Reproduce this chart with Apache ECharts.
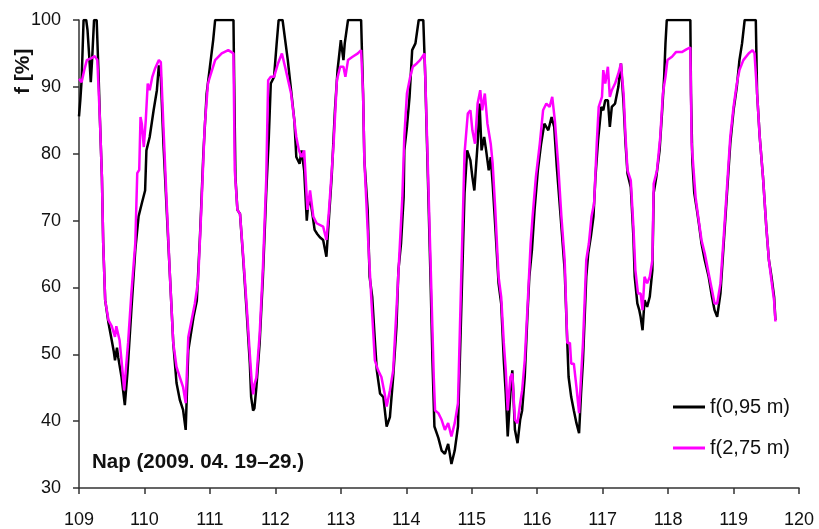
<!DOCTYPE html>
<html>
<head>
<meta charset="utf-8">
<title>f [%]</title>
<script src="https://cdn.jsdelivr.net/npm/echarts@6/dist/echarts.min.js"></script>
<style>
  html, body { margin: 0; padding: 0; background: #fff; }
  #chart { width: 819px; height: 529px; }
</style>
</head>
<body>
<div id="chart"></div>
<script>
// Day-of-year axis ticks and value axis ticks
const dayTicks = [109, 110, 111, 112, 113, 114, 115, 116, 117, 118, 119, 120];
const fTicks = [30, 40, 50, 60, 70, 80, 90, 100];

// f(0,95 m): time (day of year) and relative humidity [%]
const t095 = [
  109.00, 109.02, 109.04, 109.07, 109.11, 109.13, 109.16, 109.18, 109.20, 109.23,
  109.27, 109.30, 109.32, 109.35, 109.37, 109.40, 109.45, 109.50, 109.53, 109.55,
  109.58, 109.60, 109.65, 109.70, 109.74, 109.80, 109.86, 109.91, 109.96, 110.01,
  110.03, 110.08, 110.14, 110.19, 110.22, 110.25, 110.29, 110.34, 110.39, 110.44,
  110.47, 110.49, 110.54, 110.59, 110.63, 110.67, 110.75, 110.80, 110.85, 110.90,
  110.95, 111.00, 111.05, 111.08, 111.36, 111.37, 111.39, 111.42, 111.46, 111.51,
  111.56, 111.61, 111.63, 111.66, 111.68, 111.71, 111.76, 111.81, 111.86, 111.90,
  111.93, 111.98, 112.02, 112.05, 112.11, 112.15, 112.19, 112.24, 112.29, 112.32,
  112.37, 112.40, 112.44, 112.48, 112.51, 112.55, 112.60, 112.64, 112.68, 112.73,
  112.78, 112.82, 112.86, 112.91, 112.95, 113.00, 113.04, 113.06, 113.11, 113.31,
  113.34, 113.36, 113.41, 113.44, 113.48, 113.52, 113.55, 113.60, 113.65, 113.70,
  113.75, 113.80, 113.85, 113.88, 113.92, 113.96, 113.97, 114.01, 114.05, 114.09,
  114.14, 114.19, 114.26, 114.29, 114.33, 114.37, 114.40, 114.43, 114.49, 114.54,
  114.59, 114.64, 114.69, 114.74, 114.79, 114.84, 114.89, 114.93, 114.98, 115.01,
  115.04, 115.09, 115.12, 115.15, 115.19, 115.22, 115.26, 115.29, 115.32, 115.36,
  115.41, 115.45, 115.49, 115.52, 115.55, 115.59, 115.62, 115.66, 115.70, 115.74,
  115.77, 115.81, 115.85, 115.88, 115.92, 115.96, 116.01, 116.06, 116.11, 116.17,
  116.22, 116.26, 116.30, 116.37, 116.42, 116.46, 116.48, 116.52, 116.56, 116.60,
  116.64, 116.67, 116.70, 116.75, 116.78, 116.82, 116.86, 116.89, 116.93, 116.98,
  117.01, 117.04, 117.08, 117.11, 117.14, 117.19, 117.24, 117.28, 117.32, 117.35,
  117.38, 117.43, 117.47, 117.49, 117.53, 117.56, 117.58, 117.61, 117.64, 117.68,
  117.72, 117.76, 117.78, 117.82, 117.87, 117.91, 117.94, 117.96, 117.98, 118.34,
  118.35, 118.37, 118.40, 118.44, 118.47, 118.51, 118.56, 118.62, 118.67, 118.71,
  118.75, 118.80, 118.85, 118.90, 118.95, 119.00, 119.05, 119.09, 119.13, 119.17,
  119.34, 119.36, 119.40, 119.45, 119.50, 119.54, 119.58, 119.62, 119.64
];
const f095 = [
  85.6, 88.0, 91.0, 100, 100, 98.5, 94.0, 90.7, 94.0, 100,
  100, 91.5, 85.0, 76.5, 66.6, 58.1, 54.7, 52.1, 50.5, 49.1,
  51.0, 49.5, 46.6, 42.4, 47.2, 56.6, 65.6, 70.6, 72.6, 74.5,
  80.5, 82.5, 86.5, 89.5, 93.2, 91.5, 81.5, 71.5, 61.6, 51.7,
  48.1, 45.7, 43.2, 41.7, 38.7, 50.6, 55.6, 58.0, 68.0, 80.0,
  89.0, 93.0, 97.0, 100, 100, 91.5, 76.5, 71.6, 71.0, 64.1,
  56.6, 48.6, 43.6, 41.6, 41.9, 45.1, 51.7, 61.6, 74.1, 82.5,
  90.5, 91.5, 96.5, 100, 100, 97.0, 94.0, 89.5, 85.0, 79.5,
  78.5, 80.5, 77.5, 70.0, 73.5, 72.1, 68.6, 68.0, 67.5, 67.1,
  64.6, 70.6, 76.5, 86.5, 92.5, 97.0, 94.0, 96.5, 100, 100,
  89.0, 79.0, 71.6, 61.6, 58.6, 52.1, 47.6, 44.1, 43.6, 39.2,
  40.6, 46.6, 54.1, 62.6, 66.6, 73.5, 80.5, 84.0, 88.5, 95.5,
  96.5, 100, 100, 91.5, 76.5, 61.6, 49.1, 39.2, 37.5, 35.6,
  35.1, 36.6, 33.6, 35.6, 39.2, 56.6, 74.1, 80.5, 79.0, 76.5,
  74.5, 81.5, 87.5, 80.5, 82.5, 80.5, 77.5, 79.5, 75.5, 69.1,
  60.6, 57.6, 49.1, 44.1, 37.7, 44.1, 47.6, 38.7, 36.7, 40.2,
  41.6, 46.6, 55.6, 61.6, 65.6, 71.6, 77.5, 81.5, 84.5, 83.5,
  85.5, 84.0, 78.0, 69.1, 62.6, 51.7, 46.6, 43.6, 41.6, 39.7,
  38.2, 44.1, 49.1, 61.6, 65.1, 67.6, 70.6, 76.5, 82.0, 87.0,
  86.5, 88.0, 88.0, 84.0, 87.0, 87.5, 90.0, 93.5, 87.5, 81.5,
  77.0, 75.0, 67.6, 61.6, 57.6, 56.6, 55.6, 53.6, 58.1, 57.1,
  58.6, 62.6, 74.1, 76.5, 80.5, 86.5, 91.5, 96.5, 100, 100,
  89.0, 79.0, 74.1, 71.6, 69.6, 66.6, 64.1, 61.6, 58.6, 56.6,
  55.6, 59.1, 66.6, 74.1, 81.5, 86.5, 90.0, 94.0, 96.5, 100,
  100, 89.0, 82.5, 76.5, 69.1, 64.1, 61.6, 58.6, 55.1
];

// f(2,75 m): time (day of year) and relative humidity [%]
const t275 = [
  109.00, 109.04, 109.08, 109.12, 109.19, 109.24, 109.28, 109.32, 109.35, 109.37,
  109.40, 109.45, 109.50, 109.55, 109.57, 109.62, 109.66, 109.69, 109.75, 109.80,
  109.86, 109.89, 109.92, 109.94, 109.96, 109.99, 110.02, 110.05, 110.08, 110.12,
  110.16, 110.22, 110.25, 110.29, 110.34, 110.39, 110.44, 110.49, 110.54, 110.59,
  110.63, 110.67, 110.72, 110.77, 110.82, 110.87, 110.92, 110.97, 111.00, 111.08,
  111.18, 111.28, 111.36, 111.38, 111.42, 111.46, 111.51, 111.56, 111.61, 111.64,
  111.66, 111.68, 111.71, 111.76, 111.81, 111.86, 111.89, 111.93, 111.98, 112.04,
  112.10, 112.16, 112.24, 112.32, 112.36, 112.40, 112.44, 112.49, 112.53, 112.58,
  112.63, 112.66, 112.73, 112.78, 112.82, 112.89, 112.94, 112.99, 113.04, 113.07,
  113.11, 113.18, 113.26, 113.31, 113.34, 113.36, 113.42, 113.47, 113.52, 113.57,
  113.62, 113.67, 113.70, 113.75, 113.80, 113.85, 113.89, 113.94, 113.97, 114.01,
  114.06, 114.10, 114.16, 114.21, 114.28, 114.32, 114.37, 114.42, 114.44, 114.49,
  114.54, 114.59, 114.64, 114.69, 114.74, 114.79, 114.84, 114.89, 114.94, 114.98,
  115.01, 115.05, 115.09, 115.13, 115.16, 115.20, 115.24, 115.29, 115.32, 115.36,
  115.41, 115.45, 115.49, 115.52, 115.55, 115.59, 115.62, 115.66, 115.70, 115.74,
  115.77, 115.81, 115.85, 115.90, 115.93, 115.98, 116.04, 116.09, 116.14, 116.19,
  116.23, 116.27, 116.32, 116.37, 116.42, 116.46, 116.50, 116.52, 116.56, 116.60,
  116.64, 116.67, 116.70, 116.75, 116.79, 116.83, 116.87, 116.91, 116.94, 116.99,
  117.01, 117.04, 117.08, 117.11, 117.14, 117.19, 117.24, 117.28, 117.32, 117.35,
  117.38, 117.43, 117.47, 117.50, 117.54, 117.58, 117.61, 117.64, 117.68, 117.72,
  117.76, 117.78, 117.83, 117.88, 117.92, 117.96, 117.99, 118.06, 118.12, 118.21,
  118.28, 118.34, 118.36, 118.39, 118.42, 118.46, 118.51, 118.56, 118.62, 118.67,
  118.71, 118.75, 118.80, 118.85, 118.90, 118.95, 119.00, 119.05, 119.09, 119.15,
  119.23, 119.29, 119.32, 119.36, 119.40, 119.45, 119.50, 119.54, 119.58, 119.62,
  119.64
];
const f275 = [
  91.2, 90.7, 92.5, 94.0, 94.3, 94.6, 94.0, 85.0, 76.5, 66.6,
  58.1, 55.1, 54.2, 52.6, 54.2, 52.1, 48.0, 44.6, 51.7, 59.1,
  66.6, 77.1, 77.6, 85.5, 84.5, 81.0, 85.0, 90.5, 89.5, 91.5,
  92.7, 94.0, 93.7, 84.0, 72.6, 61.6, 51.7, 48.1, 46.6, 45.1,
  42.7, 52.6, 55.1, 57.6, 61.0, 72.0, 84.0, 90.5, 91.5, 94.0,
  95.0, 95.5, 95.0, 77.5, 71.6, 71.0, 64.5, 57.5, 50.0, 45.7,
  44.0, 45.5, 46.5, 53.0, 63.0, 76.0, 91.0, 91.5, 91.5, 93.5,
  95.0, 92.5, 89.0, 82.5, 80.5, 79.5, 80.5, 71.6, 74.5, 70.6,
  69.6, 69.6, 69.1, 67.1, 71.6, 81.5, 91.0, 93.0, 93.0, 91.5,
  94.0, 94.5, 95.0, 95.5, 89.0, 79.0, 66.6, 57.6, 49.1, 47.6,
  46.6, 44.1, 42.2, 44.6, 47.6, 56.6, 64.1, 73.5, 82.5, 89.0,
  91.5, 93.0, 93.5, 94.0, 95.0, 81.5, 64.1, 46.6, 41.6, 41.2,
  40.2, 38.7, 39.7, 37.7, 39.7, 42.7, 61.6, 80.0, 86.0, 86.5,
  83.5, 81.5, 87.5, 89.5, 86.5, 89.0, 84.5, 81.5, 78.5, 71.6,
  61.6, 58.6, 51.7, 47.6, 41.6, 46.6, 47.1, 40.2, 39.7, 42.7,
  44.6, 49.1, 56.6, 66.6, 70.6, 76.5, 81.5, 86.5, 87.5, 87.0,
  88.5, 85.0, 78.5, 70.6, 64.1, 51.7, 51.7, 48.6, 48.6, 45.1,
  41.2, 46.6, 51.7, 64.1, 66.6, 70.6, 72.6, 81.5, 87.0, 88.5,
  92.5, 90.5, 93.0, 88.5, 89.5, 90.5, 92.0, 93.5, 89.0, 82.5,
  77.5, 76.0, 69.1, 62.6, 59.1, 59.1, 56.6, 61.6, 60.6, 61.6,
  64.1, 75.5, 77.5, 82.5, 89.0, 91.5, 94.0, 94.5, 95.2, 95.2,
  95.6, 95.9, 81.5, 77.5, 73.5, 70.6, 67.1, 65.1, 62.1, 59.6,
  57.6, 57.6, 60.6, 67.6, 75.0, 82.5, 87.0, 90.5, 92.5, 94.0,
  95.0, 95.5, 95.0, 89.0, 82.5, 76.5, 69.1, 64.1, 61.0, 58.0,
  54.9
];

const seriesNames = ['f(0,95 m)', 'f(2,75 m)'];
const seriesColors = ['#000000', '#ff00ff'];
const periodLabel = 'Nap (2009. 04. 19\u201329.)';
const yAxisTitle = 'f [%]';

const zip = (xs, ys) => xs.map((x, i) => [x, ys[i]]);

const FONT = '"Liberation Sans", Arial, sans-serif';
const chart = echarts.init(document.getElementById('chart'), null, { renderer: 'canvas' });

chart.setOption({
  animation: false,
  backgroundColor: '#ffffff',
  grid: { left: 79, right: 20, top: 20, bottom: 41, containLabel: false },
  xAxis: {
    type: 'value',
    min: dayTicks[0],
    max: dayTicks[dayTicks.length - 1],
    interval: 1,
    axisLine: { onZero: false, lineStyle: { color: '#333', width: 1.5 } },
    axisTick: { show: true, length: 6, lineStyle: { color: '#333', width: 1.5 } },
    axisLabel: { color: '#111', fontSize: 18, fontFamily: FONT, margin: 23 },
    splitLine: { show: false }
  },
  yAxis: {
    type: 'value',
    min: fTicks[0],
    max: fTicks[fTicks.length - 1],
    interval: 10,
    axisLine: { show: true, lineStyle: { color: '#333', width: 1.5 } },
    axisTick: { show: true, length: 6, lineStyle: { color: '#333', width: 1.5 } },
    axisLabel: { color: '#111', fontSize: 18, fontFamily: FONT, margin: 18 },
    splitLine: { show: false }
  },
  legend: {
    orient: 'vertical',
    left: 668,
    top: 391,
    itemWidth: 32,
    itemHeight: 3,
    itemGap: 19,
    icon: 'rect',
    textStyle: { color: '#111', fontSize: 20, fontFamily: FONT, lineHeight: 22 },
    data: seriesNames
  },
  graphic: [
    {
      type: 'text',
      left: 92,
      top: 452,
      style: { text: periodLabel, fill: '#111', font: 'bold 20.5px ' + FONT }
    },
    {
      type: 'text',
      x: 13,
      y: 94,
      rotation: Math.PI / 2,
      style: { text: yAxisTitle, fill: '#111', font: 'bold 21px ' + FONT }
    }
  ],
  series: [
    {
      name: seriesNames[0],
      type: 'line',
      data: zip(t095, f095),
      showSymbol: false,
      symbol: 'none',
      lineStyle: { color: seriesColors[0], width: 2.5 },
      itemStyle: { color: seriesColors[0] },
      z: 2
    },
    {
      name: seriesNames[1],
      type: 'line',
      data: zip(t275, f275),
      showSymbol: false,
      symbol: 'none',
      lineStyle: { color: seriesColors[1], width: 2.5 },
      itemStyle: { color: seriesColors[1] },
      z: 3
    }
  ]
});
</script>
</body>
</html>
